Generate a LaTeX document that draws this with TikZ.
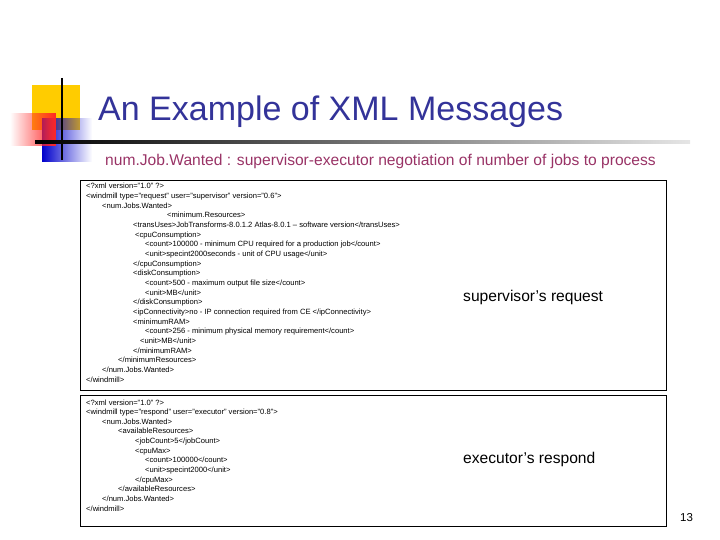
\documentclass[tikz,border=0pt]{standalone}
\usepackage{fontspec}
\setmainfont{Liberation Sans}
\usetikzlibrary{fadings}
\definecolor{ttl}{HTML}{333399}
\definecolor{sub}{HTML}{993366}
\definecolor{gold}{HTML}{FFCC00}
\begin{document}
\begin{tikzpicture}[x=1pt,y=-1pt,
  xml/.style={anchor=base west,inner sep=0pt,font=\fontsize{7.6}{8}\selectfont},
  lab/.style={anchor=base west,inner sep=0pt,font=\fontsize{15.6}{17}\selectfont}]
\useasboundingbox (0,0) rectangle (720,540);
% decoration
\fill[gold] (32,85) rectangle (80,130);
\fill[blue!80!black, path fading=east] (42,118) rectangle (92,162);
\fill[red!85, path fading=west] (10,113) rectangle (56,146);
\draw[line width=2pt] (62,78) -- (62,160);
\shade[left color=black,right color=black!10] (35,141) rectangle (690,144);
\node[anchor=base west,inner sep=0pt,text=ttl,font=\fontsize{34}{38}\selectfont] (title) at (98,121) {An Example of XML Messages};
\node[anchor=base west,inner sep=0pt,text=sub,font=\fontsize{15.6}{17}\selectfont] (subt) at (105,166) {num.Job.Wanted : supervisor-executor negotiation of number of jobs to process};
% boxes
\draw[line width=0.8pt] (80,180) rectangle (666,390);
\draw[line width=0.8pt] (80,395) rectangle (666,526);
\foreach \i/\x/\t in {
0/86/{<?xml version="1.0" ?>},
1/86/{<windmill type="request" user="supervisor" version="0.6">},
2/102/{<num.Jobs.Wanted>},
3/167/{<minimum.Resources>},
4/133/{<transUses>JobTransforms-8.0.1.2 Atlas-8.0.1 – software version</transUses>},
5/135/{<cpuConsumption>},
6/145/{<count>100000 - minimum CPU required for a production job</count>},
7/145/{<unit>specint2000seconds - unit of CPU usage</unit>},
8/133/{</cpuConsumption>},
9/133/{<diskConsumption>},
10/145/{<count>500 - maximum output file size</count>},
11/145/{<unit>MB</unit>},
12/133/{</diskConsumption>},
13/133/{<ipConnectivity>no - IP connection required from CE </ipConnectivity>},
14/133/{<minimumRAM>},
15/145/{<count>256 - minimum physical memory requirement</count>},
16/140/{<unit>MB</unit>},
17/133/{</minimumRAM>},
18/118/{</minimumResources>},
19/102/{</num.Jobs.Wanted>},
20/86/{</windmill>}}
  \node[xml] (a\i) at (\x,{189+9.65*\i}) {\t};
\foreach \i/\x/\t in {
0/86/{<?xml version="1.0" ?>},
1/86/{<windmill type="respond" user="executor" version="0.8">},
2/102/{<num.Jobs.Wanted>},
3/118/{<availableResources>},
4/135/{<jobCount>5</jobCount>},
5/135/{<cpuMax>},
6/145/{<count>100000</count>},
7/145/{<unit>specint2000</unit>},
8/135/{</cpuMax>},
9/118/{</availableResources>},
10/102/{</num.Jobs.Wanted>},
11/86/{</windmill>}}
  \node[xml] (b\i) at (\x,{405+9.65*\i}) {\t};
\node[lab] (l1) at (463,301) {supervisor’s request};
\node[lab] (l2) at (463,463) {executor’s respond};
\node[anchor=base west,inner sep=0pt,font=\fontsize{11.5}{13}\selectfont] (pg) at (680,521) {13};
\end{tikzpicture}
\end{document}
